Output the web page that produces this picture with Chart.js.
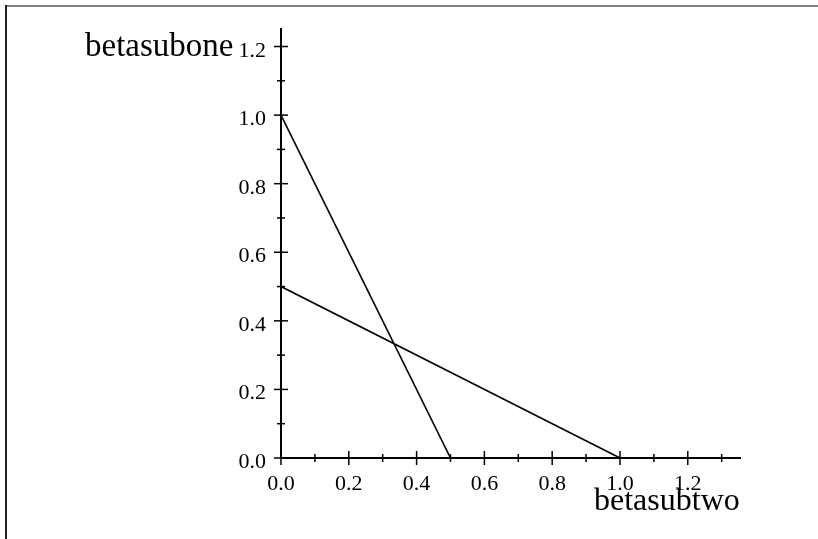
<!DOCTYPE html>
<html>
<head>
<meta charset="utf-8">
<script src="https://cdn.jsdelivr.net/npm/chart.js@4/dist/chart.umd.min.js"></script>
<style>
  html, body { margin: 0; padding: 0; background: #ffffff; }
  #wrap { width: 818px; height: 539px; position: relative; }
</style>
</head>
<body>
<div id="wrap"><canvas id="c" width="818" height="539"></canvas></div>
<script>
// ---- data ----
const lineAx = [0, 0.5];
const lineAy = [1.0, 0.0];
const lineBx = [0, 1.0];
const lineBy = [0.5, 0.0];

const xTickValues = [0, 0.1, 0.2, 0.3, 0.4, 0.5, 0.6, 0.7, 0.8, 0.9, 1.0, 1.1, 1.2, 1.3];
const yTickValues = [0, 0.1, 0.2, 0.3, 0.4, 0.5, 0.6, 0.7, 0.8, 0.9, 1.0, 1.1, 1.2];
const xTickLabels = ['0.0', '', '0.2', '', '0.4', '', '0.6', '', '0.8', '', '1.0', '', '1.2', ''];
const yTickLabels = ['0.0', '', '0.2', '', '0.4', '', '0.6', '', '0.8', '', '1.0', '', '1.2'];

const xTitle = 'betasubtwo';
const yTitle = 'betasubone';
const xMax = 1.357;
const yMax = 1.254;

function toPoints(xs, ys) { return xs.map((x, i) => ({ x: x, y: ys[i] })); }

const axesPlugin = {
  id: 'mapleAxes',
  afterDraw(chart) {
    const ctx = chart.ctx;
    const xs = chart.scales.x, ys = chart.scales.y;
    const x0 = xs.getPixelForValue(0), y0 = ys.getPixelForValue(0);
    const x1 = xs.getPixelForValue(xMax), y1 = ys.getPixelForValue(yMax);
    ctx.save();
    // frame of the picture
    ctx.lineWidth = 2;
    ctx.strokeStyle = '#808080';
    ctx.beginPath(); ctx.moveTo(5, 6); ctx.lineTo(818, 6); ctx.stroke();
    ctx.strokeStyle = '#222222';
    ctx.beginPath(); ctx.moveTo(6, 5); ctx.lineTo(6, 539); ctx.stroke();

    // axes
    ctx.strokeStyle = '#000000';
    ctx.lineWidth = 2;
    ctx.beginPath(); ctx.moveTo(x0, y0); ctx.lineTo(x1, y0); ctx.stroke();
    ctx.beginPath(); ctx.moveTo(x0, y0); ctx.lineTo(x0, y1); ctx.stroke();

    // ticks
    ctx.lineWidth = 1.5;
    xTickValues.forEach((v, i) => {
      const px = xs.getPixelForValue(v);
      const len = xTickLabels[i] ? 7 : 4;
      ctx.beginPath(); ctx.moveTo(px, y0 - len); ctx.lineTo(px, y0 + len); ctx.stroke();
    });
    yTickValues.forEach((v, i) => {
      const py = ys.getPixelForValue(v);
      const len = yTickLabels[i] ? 7 : 4;
      ctx.beginPath(); ctx.moveTo(x0 - len, py); ctx.lineTo(x0 + len, py); ctx.stroke();
    });

    // tick labels
    ctx.fillStyle = '#000000';
    ctx.font = "22px 'Liberation Serif', 'Times New Roman', serif";
    ctx.textBaseline = 'alphabetic';
    ctx.textAlign = 'center';
    xTickValues.forEach((v, i) => {
      if (!xTickLabels[i]) return;
      ctx.fillText(xTickLabels[i], xs.getPixelForValue(v), y0 + 32);
    });
    ctx.textAlign = 'right';
    yTickValues.forEach((v, i) => {
      if (!yTickLabels[i]) return;
      ctx.fillText(yTickLabels[i], x0 - 15, ys.getPixelForValue(v) + 10);
    });

    // axis titles
    ctx.textAlign = 'left';
    ctx.font = "33px 'Liberation Serif', 'Times New Roman', serif";
    ctx.fillText(yTitle, 85, 56);
    ctx.font = "32px 'Liberation Serif', 'Times New Roman', serif";
    ctx.fillText(xTitle, 594, 510);
    ctx.restore();
  }
};

new Chart(document.getElementById('c'), {
  type: 'scatter',
  data: {
    datasets: [
      { data: toPoints(lineAx, lineAy), showLine: true, borderColor: '#000000', borderWidth: 1.6, pointRadius: 0, fill: false, tension: 0 },
      { data: toPoints(lineBx, lineBy), showLine: true, borderColor: '#000000', borderWidth: 1.6, pointRadius: 0, fill: false, tension: 0 }
    ]
  },
  options: {
    responsive: false,
    animation: false,
    devicePixelRatio: 1,
    layout: { padding: { left: 281, right: 77, top: 28, bottom: 81 } },
    plugins: { legend: { display: false }, tooltip: { enabled: false }, title: { display: false } },
    scales: {
      x: { type: 'linear', min: 0, max: xMax, display: false },
      y: { type: 'linear', min: 0, max: yMax, display: false }
    }
  },
  plugins: [axesPlugin]
});
</script>
</body>
</html>
